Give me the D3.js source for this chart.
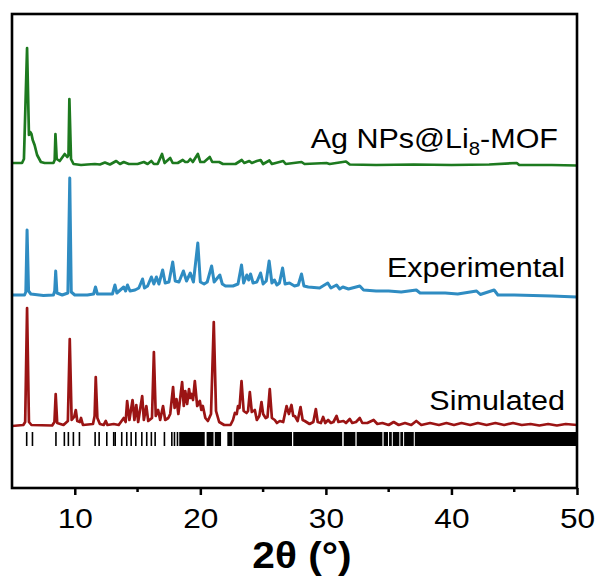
<!DOCTYPE html>
<html>
<head>
<meta charset="utf-8">
<script src="https://cdn.jsdelivr.net/npm/d3@7"></script>
<style>
  html, body { margin: 0; padding: 0; background: #fff; }
  svg { display: block; }
  text { font-family: "Liberation Sans", Arial, sans-serif; fill: #000; }
</style>
</head>
<body>
<svg id="chart" width="598" height="576"></svg>
<script>
// Powder XRD patterns, 2θ in degrees, intensity in arbitrary units above each pattern's baseline.

// Simulated pattern (from the crystal structure)
const simulated = [
  [5.0,0],[5.9,1],[6.05,4],[6.2,118],[6.35,4],[6.55,1],[8.2,0.5],[8.38,4],[8.48,32],[8.6,3],
  [9.1,1],[9.45,5],[9.6,87],[9.75,6],[9.95,9],[10.08,16],[10.2,5],[10.4,4],[10.5,8],[10.65,1],
  [11.45,2],[11.58,10],[11.67,49],[11.8,8],[12.0,2],[12.3,1],[12.47,5],[12.6,1],[13.1,2],[13.5,1],
  [13.9,8],[14.05,4],[14.17,25],[14.35,6],[14.6,26],[14.75,6],[14.9,21],[15.05,4],[15.37,30],[15.5,6],
  [15.7,20],[15.85,5],[16.15,8],[16.3,74],[16.45,10],[16.64,16],[16.8,6],[17.03,20],[17.2,6],[17.45,8],
  [17.6,12],[17.83,39],[17.95,18],[18.1,27],[18.25,12],[18.55,44],[18.68,20],[18.8,35],[18.95,22],[19.1,37],
  [19.2,28],[19.3,32],[19.42,26],[19.56,45],[19.75,20],[19.96,25],[20.08,16],[20.2,20],[20.4,8],[20.6,5],
  [20.85,12],[21.07,104],[21.25,15],[21.5,4],[21.9,1],[22.4,1],[22.6,6],[22.75,13],[22.9,12],[23.0,20],
  [23.12,18],[23.28,45],[23.45,15],[23.68,13],[23.8,15],[23.94,34],[24.1,14],[24.34,16],[24.5,6],[24.7,10],
  [24.87,24],[25.0,12],[25.2,8],[25.35,9],[25.53,37],[25.7,8],[25.93,6],[26.1,3],[26.33,5],[26.6,4],
  [26.87,20],[27.05,12],[27.26,21],[27.4,10],[27.53,10],[27.75,5],[27.98,19],[28.15,6],[28.32,5],[28.7,2],
  [29.0,4],[29.2,17],[29.35,4],[29.6,3],[29.78,9],[29.95,3],[30.18,6],[30.4,3],[30.6,4],[30.85,10],
  [31.0,4],[31.4,5],[31.6,3],[31.9,7],[32.1,3],[32.4,4],[32.7,8],[32.9,3],[33.3,3],[33.8,6],
  [34.1,2],[34.5,3],[35.0,1],[35.4,4],[35.8,1],[36.3,3],[36.8,1],[37.2,5],[37.6,1],[38.3,3],
  [39.0,1],[39.6,3],[40.2,1],[40.8,3],[41.5,1],[42.1,3],[42.8,1],[43.5,3],[44.2,1],[44.9,3],
  [45.6,1],[46.3,2],[47.0,0.5],[47.7,2],[48.4,0.5],[49.1,2],[50.0,1]
];

// As-synthesised sample
const experimental = [
  [5.0,1],[6.0,1],[6.1,4],[6.2,66],[6.32,5],[6.5,2],[7.5,0.5],[8.3,1],[8.4,5],[8.48,25],
  [8.58,3],[9.0,1],[9.45,3],[9.6,118],[9.72,4],[10.0,1],[11.0,1],[11.5,2],[11.65,9],[11.8,2],
  [12.5,2],[13.0,2],[13.2,11],[13.35,3],[13.9,9],[14.05,5],[14.2,11],[14.4,5],[14.8,6],[15.1,8],
  [15.4,17],[15.55,8],[15.8,10],[16.1,19],[16.3,12],[16.5,19],[16.7,12],[17.0,26],[17.2,13],[17.5,14],
  [17.8,34],[18.0,15],[18.3,14],[18.65,25],[18.9,15],[19.2,23],[19.45,14],[19.8,53],[20.0,14],[20.3,12],
  [20.55,14],[20.9,30],[21.1,14],[21.55,21],[21.75,12],[22.0,10],[22.6,10],[23.0,12],[23.28,31],[23.45,13],
  [23.7,21],[23.85,16],[24.0,22],[24.2,13],[24.5,14],[24.8,23],[25.0,12],[25.25,15],[25.48,35],[25.7,13],
  [25.9,16],[26.1,11],[26.3,13],[26.55,28],[26.75,12],[27.1,13],[27.5,10],[27.8,11],[28.06,22],[28.25,10],
  [28.6,9],[29.5,8],[30.15,13],[30.4,8],[30.85,11],[31.1,7],[31.35,9],[31.8,7],[32.7,10],[33.0,6],
  [34.0,5],[35.0,5],[36.0,4],[37.2,6],[37.5,3],[38.5,3],[39.5,3],[40.5,2],[42.0,5],[42.3,1.5],
  [43.4,6],[43.7,1],[45.0,1],[46.5,0.5],[48.0,0],[50.0,-1]
];

// Ag NPs@Li8-MOF
const agMof = [
  [5.0,2],[5.8,2],[5.95,6],[6.2,117],[6.35,30],[6.45,33],[6.55,31],[6.65,25],[6.8,20],[7.0,10],
  [7.3,3],[7.6,2],[8.3,2],[8.4,5],[8.46,31],[8.56,6],[8.8,4],[9.2,11],[9.4,8],[9.5,10],
  [9.57,66],[9.7,6],[9.9,1],[10.5,0],[11.0,0.5],[11.6,1],[12.0,0.5],[12.4,2.5],[12.8,0.5],[13.3,4],
  [13.6,1],[13.9,3],[14.3,1],[15.0,1],[15.5,3],[15.8,1],[16.1,4],[16.3,1],[16.6,1],[16.95,11],
  [17.15,2],[17.6,7],[17.8,2],[18.2,2],[18.6,5],[18.8,3],[19.0,3],[19.2,6],[19.4,3],[19.8,11],
  [20.0,3],[20.3,3],[20.75,8],[20.95,3],[21.5,3],[21.8,1],[22.8,1],[23.3,5],[23.5,2],[23.9,4],
  [24.1,2],[24.5,4],[24.8,5],[25.0,1],[25.5,4.5],[25.7,1],[26.6,4],[26.8,1],[28.06,3],[28.3,1],
  [30.05,2],[30.3,1],[31.6,3.5],[31.9,0.5],[34.0,0],[37.0,0.5],[40.0,0],[43.0,0.5],[45.2,2],[45.4,0],
  [48.0,0],[50.0,-0.5]
];

// Baseline of each pattern on the stacked intensity axis (a.u.)
const offsets = { simulated: 62, experimental: 192, agMof: 323 };

// Calculated reflection positions (2θ): resolved lines and fully overlapped ranges
const reflections = [6.17, 6.63, 8.5, 9.17, 9.49, 9.89, 10.37, 11.62, 11.94, 12.55,
  13.1, 13.22, 13.74, 14.14, 14.49, 14.86, 15.34, 15.73, 16.1, 16.4, 17.14, 17.73, 17.94, 18.18];
const reflectionBands = [[18.32, 20.35], [20.5, 21.05], [21.15, 21.65], [22.15, 22.55],
  [22.65, 27.3], [27.4, 31.3], [31.42, 32.35], [32.45, 34.5], [34.6, 34.95], [35.03, 35.25],
  [35.33, 35.85], [35.93, 36.15], [36.23, 37.0], [37.08, 50]];

const labels = [
  { text: "Ag NPs@Li", sub: "8", tail: "-MOF", key: "agMof" },
  { text: "Experimental", key: "experimental" },
  { text: "Simulated", key: "simulated" }
];

const majorTicks = [10, 20, 30, 40, 50];
const minorTicks = [15, 25, 35, 45];
const colors = { agMof: "#1d7a1f", experimental: "#2f8cc2", simulated: "#9b1414" };

const svg = d3.select("#chart");
const m = { left: 12, right: 577, top: 14, bottom: 488 };
const stretch = 1.13;

const x = d3.scaleLinear().domain([5, 50]).range([m.left, m.right]);
const y = d3.scaleLinear().domain([0, 474]).range([m.bottom, m.top]);

const plot = svg.append("g");
svg.append("clipPath").attr("id", "clip")
  .append("rect").attr("x", m.left).attr("y", m.top)
  .attr("width", m.right - m.left).attr("height", m.bottom - m.top);

const line = off => d3.line()
  .x(d => x(d[0]))
  .y(d => y(d[1] + off))
  .curve(d3.curveLinear);

const series = { simulated, experimental, agMof };
Object.keys(series).forEach(k => {
  plot.append("path")
    .datum(series[k])
    .attr("clip-path", "url(#clip)")
    .attr("fill", "none")
    .attr("stroke", colors[k])
    .attr("stroke-width", k === "experimental" ? 3 : 2.7)
    .attr("stroke-linejoin", "round")
    .attr("d", line(offsets[k]));
});

// Reflection markers below the simulated pattern
const tickTop = y(56), tickBottom = y(42);
plot.append("g").selectAll("line").data(reflections).join("line")
  .attr("x1", d => x(d)).attr("x2", d => x(d))
  .attr("y1", tickTop).attr("y2", tickBottom)
  .attr("stroke", "#000").attr("stroke-width", 1.6);
plot.append("g").selectAll("rect").data(reflectionBands).join("rect")
  .attr("x", d => x(d[0])).attr("width", d => x(d[1]) - x(d[0]))
  .attr("y", tickTop).attr("height", tickBottom - tickTop)
  .attr("fill", "#000");

// Pattern labels
const labelY = { agMof: 148, experimental: 277, simulated: 410 };
const labelX = { agMof: 558, experimental: 565, simulated: 565 };
labels.forEach(l => {
  const t = svg.append("text")
    .attr("transform", `translate(${labelX[l.key]},${labelY[l.key]}) scale(${stretch},1)`)
    .attr("text-anchor", "end")
    .style("font-size", "27px");
  t.append("tspan").text(l.text);
  if (l.sub) {
    t.append("tspan").text(l.sub).style("font-size", "18px").attr("dy", 7);
    t.append("tspan").text(l.tail).attr("dy", -7);
  }
});

// Bottom axis
const axis = svg.append("g").attr("transform", `translate(0,${m.bottom})`);
axis.call(d3.axisBottom(x).tickValues(majorTicks).tickSize(7).tickFormat(d3.format("d")))
  .call(g => g.select(".domain").remove());
axis.selectAll(".tick line").attr("stroke", "#000").attr("stroke-width", 2.5);
axis.selectAll(".tick text")
  .attr("y", 40).attr("dy", 0)
  .attr("transform", `scale(${stretch},1)`)
  .style("font-size", "28px")
  .style("font-family", "'Liberation Sans', Arial, sans-serif")
  .attr("fill", "#000");
axis.append("g").selectAll("line").data(minorTicks).join("line")
  .attr("x1", d => x(d)).attr("x2", d => x(d))
  .attr("y1", 0).attr("y2", 4)
  .attr("stroke", "#000").attr("stroke-width", 2.5);

// Frame
svg.append("rect")
  .attr("x", m.left).attr("y", m.top)
  .attr("width", m.right - m.left).attr("height", m.bottom - m.top)
  .attr("fill", "none").attr("stroke", "#000").attr("stroke-width", 2.6);

// Axis title
svg.append("text")
  .attr("transform", `translate(302,568) scale(${stretch},1)`)
  .attr("text-anchor", "middle")
  .style("font-size", "36px")
  .style("font-weight", "bold")
  .text("2θ (°)");
</script>
</body>
</html>
